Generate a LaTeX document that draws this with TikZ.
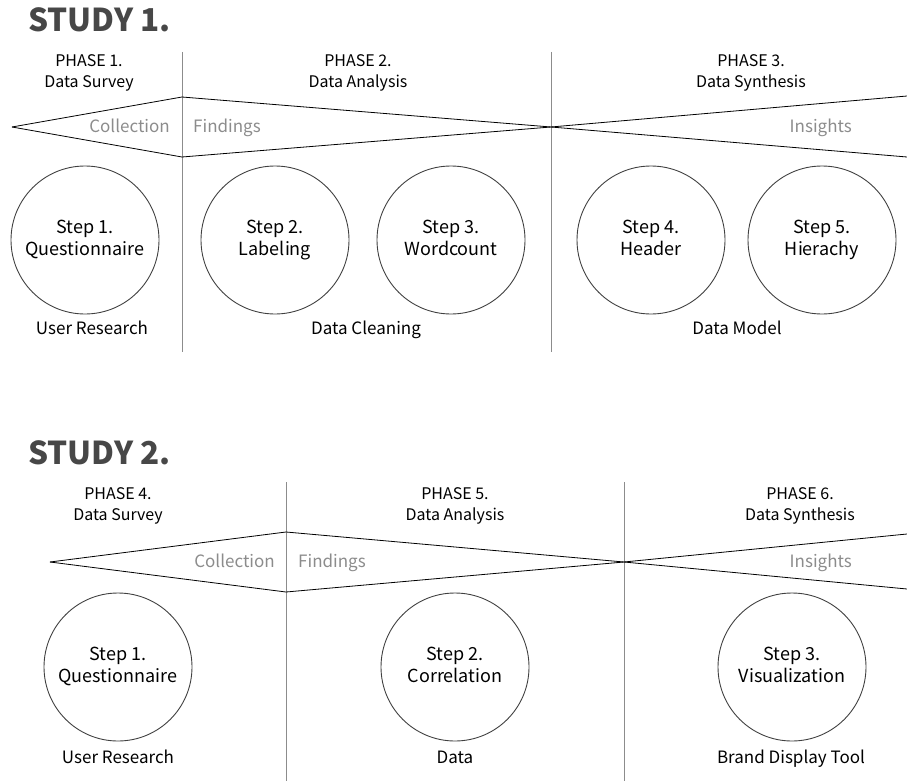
\documentclass[tikz,border=0pt]{standalone}
\usepackage{fontspec}
\setmainfont{Noto Sans CJK KR}
\begin{document}
\begin{tikzpicture}[x=1pt,y=-1pt,
  heading/.style={font=\fontsize{31.5}{36}\selectfont\bfseries, text=black!72, anchor=base west, inner sep=0},
  phase/.style={font=\fontsize{16}{20.5}\selectfont, align=center, inner sep=0},
  stepc/.style={draw=black!75, line width=0.9pt, circle, minimum size=148pt, inner sep=0, align=center, font=\fontsize{18}{22.5}\selectfont},
  sub/.style={font=\fontsize{17}{20}\selectfont, inner sep=0, anchor=base},
  stage/.style={font=\fontsize{17}{20}\selectfont, text=black!45, inner sep=0},
  divider/.style={draw=black!45, line width=1pt},
  funnel/.style={draw=black, line width=0.8pt}]
\useasboundingbox (0,0) rectangle (907,781);

% ---------- STUDY 1 ----------
\node[heading] (h1) at (28,32) {STUDY 1.};
\coordinate (d1t) at (182,52); \coordinate (d1b) at (182,352);
\coordinate (d2t) at (551,52); \coordinate (d2b) at (551,352);
\draw[divider] (d1t) -- (d1b);
\draw[divider] (d2t) -- (d2b);

\node[phase] (p1) at (89,73) {PHASE 1.\strut\\Data Survey\strut};
\node[phase] (p2) at (358,73) {PHASE 2.\strut\\Data Analysis\strut};
\node[phase] (p3) at (751,73) {PHASE 3.\strut\\Data Synthesis\strut};

\coordinate (fa) at (12,127);
\coordinate (fbt) at (182,97); \coordinate (fbb) at (182,157);
\coordinate (fc) at (551,127);
\coordinate (fdt) at (907,96); \coordinate (fdb) at (907,157);
\draw[funnel] (fa) -- (fbt) -- (fc) -- (fdt);
\draw[funnel] (fa) -- (fbb) -- (fc) -- (fdb);

\node[stage, anchor=base east] (c1) at (170,132) {Collection};
\node[stage, anchor=base west] (f1) at (193,132) {Findings};
\node[stage, anchor=base east] (i1) at (852,132) {Insights};

\node[stepc] (s1) at (85,240) {Step 1.\strut\\Questionnaire\strut};
\node[stepc] (s2) at (275,240) {Step 2.\strut\\Labeling\strut};
\node[stepc] (s3) at (451,240) {Step 3.\strut\\Wordcount\strut};
\node[stepc] (s4) at (651,240) {Step 4.\strut\\Header\strut};
\node[stepc] (s5) at (822,240) {Step 5.\strut\\Hierachy\strut};

\node[sub] (u1) at (92,334) {User Research};
\node[sub] (u2) at (366,334) {Data Cleaning};
\node[sub] (u3) at (737,334) {Data Model};

% ---------- STUDY 2 ----------
\node[heading] (h2) at (28,464) {STUDY 2.};
\coordinate (e1t) at (286,482); \coordinate (e1b) at (286,781);
\coordinate (e2t) at (624,482); \coordinate (e2b) at (624,781);
\draw[divider] (e1t) -- (e1b);
\draw[divider] (e2t) -- (e2b);

\node[phase] (p4) at (118,506) {PHASE 4.\strut\\Data Survey\strut};
\node[phase] (p5) at (455,506) {PHASE 5.\strut\\Data Analysis\strut};
\node[phase] (p6) at (800,506) {PHASE 6.\strut\\Data Synthesis\strut};

\coordinate (ga) at (50,562);
\coordinate (gbt) at (286,532); \coordinate (gbb) at (286,592);
\coordinate (gc) at (624,562);
\coordinate (gdt) at (907,534); \coordinate (gdb) at (907,589);
\draw[funnel] (ga) -- (gbt) -- (gc) -- (gdt);
\draw[funnel] (ga) -- (gbb) -- (gc) -- (gdb);

\node[stage, anchor=base east] (c2) at (275,567) {Collection};
\node[stage, anchor=base west] (f2) at (298,567) {Findings};
\node[stage, anchor=base east] (i2) at (852,567) {Insights};

\node[stepc] (t1) at (118,667) {Step 1.\strut\\Questionnaire\strut};
\node[stepc] (t2) at (455,667) {Step 2.\strut\\Correlation\strut};
\node[stepc] (t3) at (792,667) {Step 3.\strut\\Visualization\strut};

\node[sub] (v1) at (118,763) {User Research};
\node[sub] (v2) at (455,763) {Data};
\node[sub] (v3) at (791,763) {Brand Display Tool};
\end{tikzpicture}
\end{document}
